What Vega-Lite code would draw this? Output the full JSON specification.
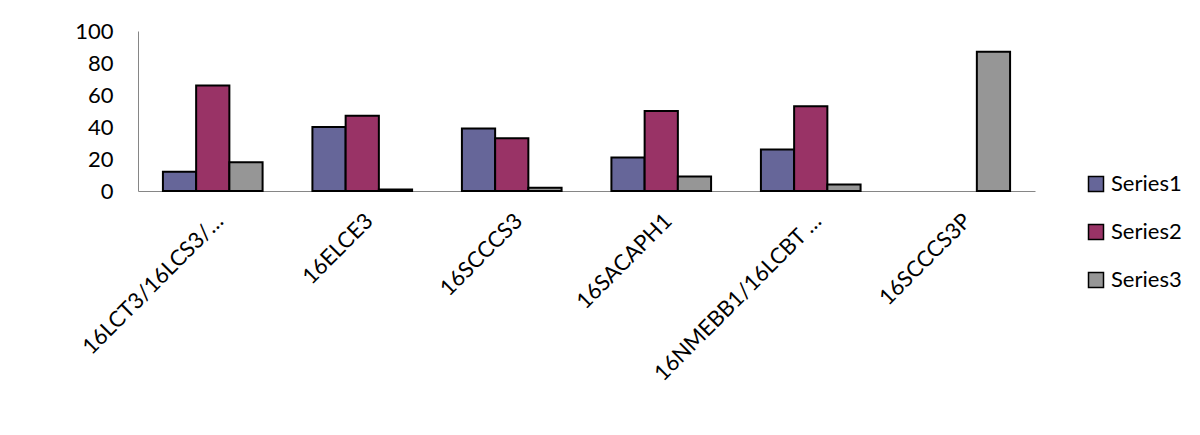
{
  "$schema": "https://vega.github.io/schema/vega-lite/v6.json",
  "autosize": {"type": "none"},
  "width": 897,
  "height": 160,
  "padding": {"left": 138, "top": 31, "right": 165, "bottom": 244},
  "background": "white",
  "data": {
    "values": [
      {"category": "16LCT3/16LCS3/…", "series": "Series1", "value": 12},
      {"category": "16LCT3/16LCS3/…", "series": "Series2", "value": 66},
      {"category": "16LCT3/16LCS3/…", "series": "Series3", "value": 18},
      {"category": "16ELCE3", "series": "Series1", "value": 40},
      {"category": "16ELCE3", "series": "Series2", "value": 47},
      {"category": "16ELCE3", "series": "Series3", "value": 1},
      {"category": "16SCCCS3", "series": "Series1", "value": 39},
      {"category": "16SCCCS3", "series": "Series2", "value": 33},
      {"category": "16SCCCS3", "series": "Series3", "value": 2},
      {"category": "16SACAPH1", "series": "Series1", "value": 21},
      {"category": "16SACAPH1", "series": "Series2", "value": 50},
      {"category": "16SACAPH1", "series": "Series3", "value": 9},
      {"category": "16NMEBB1/16LCBT …", "series": "Series1", "value": 26},
      {"category": "16NMEBB1/16LCBT …", "series": "Series2", "value": 53},
      {"category": "16NMEBB1/16LCBT …", "series": "Series3", "value": 4},
      {"category": "16SCCCS3P", "series": "Series3", "value": 87}
    ]
  },
  "mark": {"type": "bar", "stroke": "black", "strokeWidth": 2},
  "encoding": {
    "x": {
      "field": "category",
      "type": "nominal",
      "sort": null,
      "scale": {"paddingInner": 0.3333, "paddingOuter": 0.1667},
      "axis": {
        "title": null,
        "labelAngle": -45,
        "labelAlign": "right",
        "labelBaseline": "top",
        "ticks": false,
        "domainColor": "#868686",
        "labelFont": "Lato",
        "labelFontSize": 22,
        "labelColor": "#000000",
        "labelPadding": 19,
        "labelLimit": 0
      }
    },
    "xOffset": {
      "field": "series",
      "type": "nominal",
      "scale": {"domain": ["Series1", "Series2", "Series3"], "paddingInner": 0, "paddingOuter": 0}
    },
    "y": {
      "field": "value",
      "type": "quantitative",
      "scale": {"domain": [0, 100]},
      "axis": {
        "title": null,
        "values": [0, 20, 40, 60, 80, 100],
        "grid": false,
        "ticks": false,
        "domainColor": "#868686",
        "labelFont": "Lato",
        "labelFontSize": 22,
        "labelColor": "#000000",
        "labelPadding": 25
      }
    },
    "color": {
      "field": "series",
      "type": "nominal",
      "scale": {"domain": ["Series1", "Series2", "Series3"], "range": ["#666699", "#993366", "#969696"]},
      "legend": {
        "orient": "none",
        "legendX": 947,
        "legendY": 142,
        "title": null,
        "symbolType": "square",
        "symbolSize": 225,
        "symbolStrokeColor": "black",
        "symbolStrokeWidth": 1.5,
        "symbolOpacity": 1,
        "labelFont": "Lato",
        "labelFontSize": 22,
        "labelColor": "#000000",
        "labelOffset": 4,
        "rowPadding": 26
      }
    }
  },
  "config": {"view": {"stroke": null}}
}
